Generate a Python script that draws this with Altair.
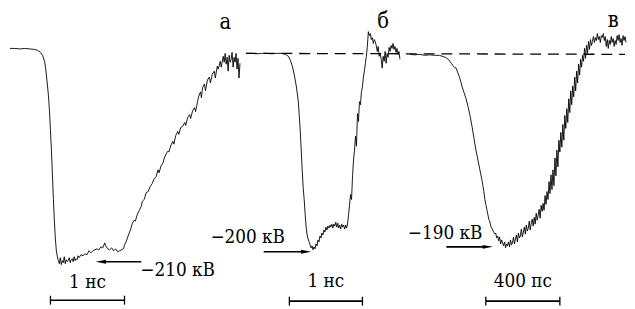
import altair as alt
import pandas as pd

# Trace "а" (page-pixel units: x to the right, y downward)
a_x = [10,15,20,25,30,35,38,41,43,45,46,47,48,49,50,51,52,53,54,55,56,57,58,59,
       60,61,62,63,64,65,66,67,68,69,70,71,72,73,74,75,76,77,78,79,80,82,84,86,88,90,92,94,96,98,
       100,102,104,106,107,109,111,113,115,117,119,121,123,125,126,128,130,132,134,136,137,139,141,
       143,144,146,148,150,152,154,156,158,160,161,163,165,166,168,170,171,173,175,176,178,180,181,
       183,185,187,188,190,192,193,195,197,198,200,201,203,204,205,207,208,210,212,213,215,217,218,
       220,221,223,224,226,227,228,229,230,231,232,233,234,235,236,237,238,239,240,241,242,243]
a_y = [47,47,47.5,47,47.5,48,49,51,54,60,66,75,85,95,110,130,150,175,200,222,240,252,258,262,
       265,259,266,262,264,258,265,261,263,262,259,264,261,260,263,258,262,260,261,257,259,256,257,255,256,252,254,252,251,250,
       251,248,249,244,247,250,251,249,252,250,253,252,251,250,246,242,236,231,224,221,222,215,211,
       207,202,200,193,192,187,184,179,177,170,173,166,163,159,154,151,152,145,141,144,135,131,134,
       127,126,122,125,117,114,118,110,107,111,101,96,91,97,87,83,90,79,76,82,73,70,77,
       65,68,60,66,55,61,52,63,56,70,54,61,58,51,66,56,61,52,68,57,77,62]

# Trace "б"
b_x = [249,255,260,265,270,275,280,285,289,292,294,296,298,300,302,303,304,305,306,307,308,309,310,311,
       312,313,314,315,316,317,318,319,320,321,322,323,324,325,326,327,328,329,330,331,332,333,334,335,
       336,337,338,339,340,341,342,343,344,345,346,347,348,349,350,351,352,353,354,355,356,357,358,359,
       360,361,362,363,364,365,366,367,368,369,370,371,372,373,374,375,376,377,378,379,380,381,382,383,
       384,385,386,387,388,389,390,391,392,393,394,395,396,397,398,399,400,401,402,403,404,405]
b_y = [52,52,52.5,52,52,52.5,52,52,53,55,59,65,74,85,100,115,130,150,170,188,200,215,228,236,
       240,243,246,249,247,251,248,250,245,247,241,243,237,239,234,236,231,233,228,231,227,229,226,228,
       225,229,225,227,223,228,224,229,226,230,225,228,226,230,226,229,224,215,205,195,200,176,160,150,
       136,146,113,121,101,104,91,86,76,70,62,55,45,30,34,32,38,36,42,38,40,44,50,45,
       55,52,58,67,55,60,50,62,52,56,46,50,44,47,42,48,45,51,47,53,50,58]

# Trace "в"
c_x = list(range(415, 450, 5)) + [451,454,457,459,460,462,463,465,467,468,470,472,474,476,478,480,
       482,484,486,488,489,490,491,492,493,494,495,496,497,498,499] + list(range(500, 635))
c_y = [53,53.5,53,54,53.5,54,54,56,58,62,65,66,67,70,75,82,86,92,98,106,115,126,138,
       150,160,170,180,186,192,200,205,210,215,220,222,227,229,231,
       233,235,234,239,237,242,238,245,241,244,247,243,249,245,247,243,248,241,246,244,
       238,245,240,236,243,234,239,237,230,238,233,228,235,226,232,229,222,231,224,220,
       227,218,225,214,221,216,210,219,206,212,204,211,196,205,192,200,182,194,175,190,
       170,186,158,176,150,167,140,152,132,147,124,140,115,128,108,122,98,112,90,104,
       85,96,76,90,70,82,63,74,58,66,54,60,47,57,44,52,40,48,38,44,
       40,35,41,36,39,32,38,35,41,34,36,32,39,35,45,38,47,39,43,35,
       41,37,45,39,43,34,39,33,41,37,44,34,39,35,41]

# Dashed zero line
dash_x = [249]; dash_x2 = [633]; dash_y = [52]; dash_y2 = [53]

# Arrows: tail x, tip x, y
arr_tail = [143, 267, 452]
arr_tip = [97, 315, 499]
arr_y = [263, 253, 248]

# Time-scale bars
bar_x1 = [51, 293, 492]
bar_x2 = [126, 367, 567]
bar_y = [302, 303, 303]
bar_text = ["1 нс", "1 нс", "400 пс"]
bar_text_y = [290, 289, 289]

# Voltage labels
volt_text = ["−210 кВ", "−200 кВ", "−190 кВ"]
volt_x = [142, 213, 413]
volt_y = [278, 244, 240]

# Panel letters
letter_text = ["а", "б", "в"]
letter_x = [228, 388, 621]
letter_y = [27, 26, 25]

FONT = "DejaVu Serif Condensed"
xs = alt.Scale(domain=[8, 627])
ys = alt.Scale(domain=[8, 301], reverse=True)
X = lambda f: alt.X(f, type="quantitative", scale=xs, axis=None)
Y = lambda f: alt.Y(f, type="quantitative", scale=ys, axis=None)

traces = pd.concat([
    pd.DataFrame({"x": a_x, "y": a_y, "tr": "a", "o": range(len(a_x))}),
    pd.DataFrame({"x": b_x, "y": b_y, "tr": "b", "o": range(len(b_x))}),
    pd.DataFrame({"x": c_x, "y": c_y, "tr": "c", "o": range(len(c_x))}),
])

lines = alt.Chart(traces).mark_line(color="black", strokeWidth=0.9).encode(
    x=X("x"), y=Y("y"), detail="tr:N", order="o:Q")

dash = alt.Chart(pd.DataFrame({"x": dash_x, "x2": dash_x2, "y": dash_y, "y2": dash_y2})).mark_rule(
    color="black", strokeWidth=1.3, strokeDash=[11, 7]).encode(
    x=X("x"), x2="x2", y=Y("y"), y2="y2")

arr_df = pd.DataFrame({"tail": arr_tail, "tip": arr_tip, "y": arr_y})
arr_df["dir"] = (arr_df["tip"] - arr_df["tail"]).apply(lambda d: 1 if d > 0 else -1)
arr_df["head"] = arr_df["tip"] - arr_df["dir"] * 5
arr_df["shaft_end"] = arr_df["tip"] - arr_df["dir"] * 6
arr_df["shape"] = arr_df["dir"].map({1: "M1,0L-1,-0.38L-1,0.38Z", -1: "M-1,0L1,-0.38L1,0.38Z"})

shafts = alt.Chart(arr_df).mark_rule(color="black", strokeWidth=1.6).encode(
    x=X("tail"), x2="shaft_end", y=Y("y"))
heads = alt.Chart(arr_df).mark_point(filled=True, color="black", opacity=1, size=110).encode(
    x=X("head"), y=Y("y"), shape=alt.Shape("shape:N", scale=None, legend=None))

bar_df = pd.DataFrame({"x1": bar_x1, "x2": bar_x2, "y": bar_y, "t": bar_text, "ty": bar_text_y})
bar_df["xm"] = (bar_df["x1"] + bar_df["x2"]) / 2
bar_df["yt"] = bar_df["y"] - 4.5
bar_df["yb"] = bar_df["y"] + 4.5
bars = alt.Chart(bar_df).mark_rule(color="black", strokeWidth=1.6).encode(
    x=X("x1"), x2="x2", y=Y("y"))
tick1 = alt.Chart(bar_df).mark_rule(color="black", strokeWidth=1.3).encode(
    x=X("x1"), y=Y("yt"), y2="yb")
tick2 = alt.Chart(bar_df).mark_rule(color="black", strokeWidth=1.3).encode(
    x=X("x2"), y=Y("yt"), y2="yb")
bar_lbl = alt.Chart(bar_df).mark_text(font=FONT, fontSize=19, color="black",
                                      align="center", baseline="alphabetic").encode(
    x=X("xm"), y=Y("ty"), text="t:N")

volt = alt.Chart(pd.DataFrame({"x": volt_x, "y": volt_y, "t": volt_text})).mark_text(
    font=FONT, fontSize=19, color="black", align="left", baseline="alphabetic").encode(
    x=X("x"), y=Y("y"), text="t:N")

letters = alt.Chart(pd.DataFrame({"x": letter_x, "y": letter_y, "t": letter_text})).mark_text(
    font=FONT, fontSize=22, color="black", align="center", baseline="alphabetic").encode(
    x=X("x"), y=Y("y"), text="t:N")

chart = alt.layer(dash, lines, shafts, heads, bars, tick1, tick2, bar_lbl, volt, letters).properties(
    width=619, height=293, autosize=alt.AutoSizeParams(type="none"),
    padding={"left": 0, "top": 0, "right": 8, "bottom": 8}, background="white"
).configure_view(stroke=None)

chart.save("out.html", embed_options={"renderer": "svg", "actions": False})
